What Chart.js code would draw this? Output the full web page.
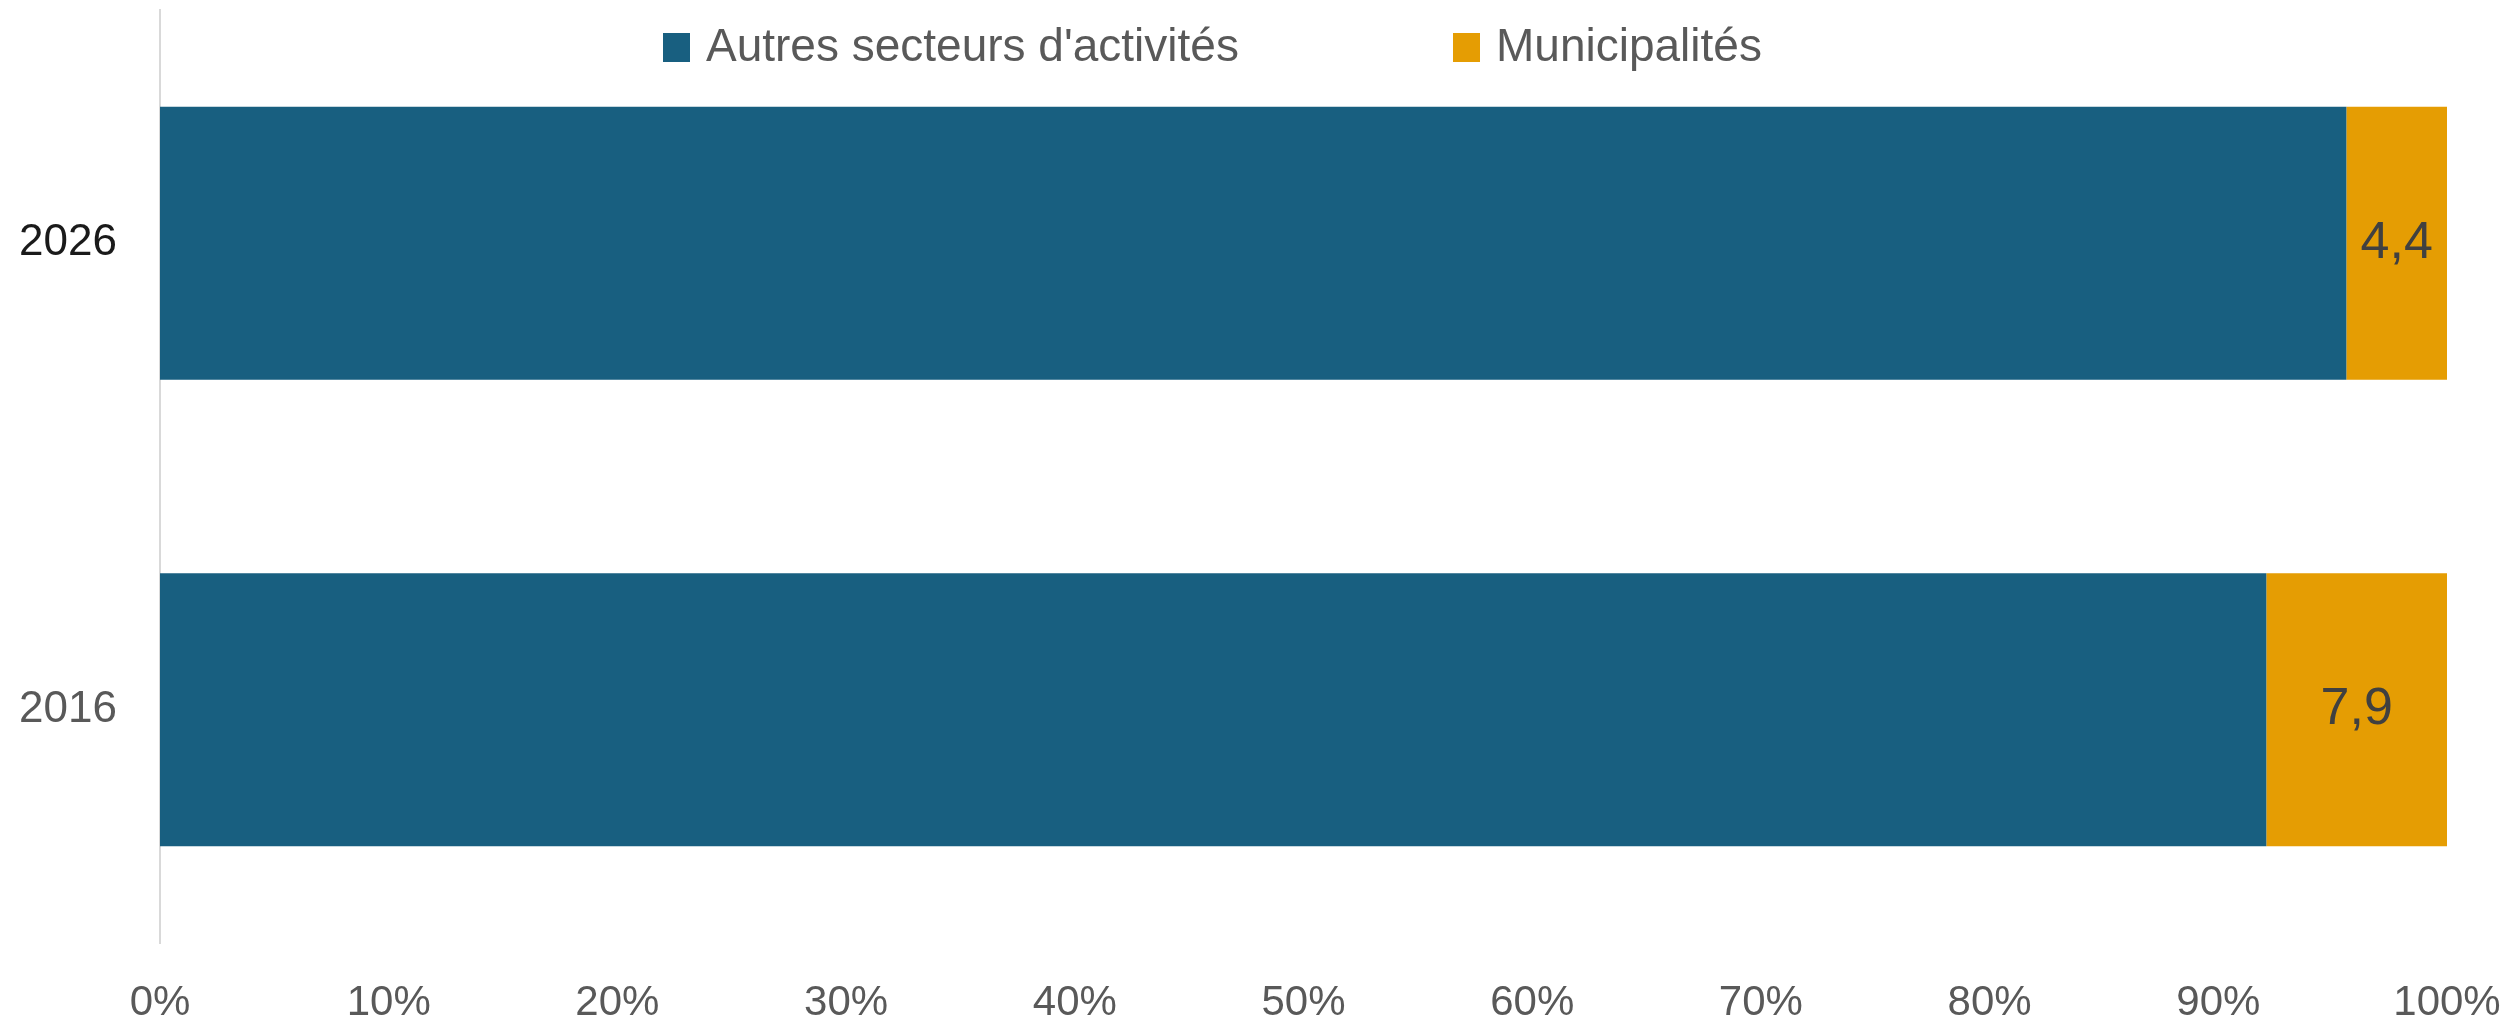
<!DOCTYPE html>
<html>
<head>
<meta charset="utf-8">
<script src="https://cdn.jsdelivr.net/npm/chart.js@4.4.0/dist/chart.umd.min.js"></script>
<style>
  html, body { margin: 0; padding: 0; background: #fff; }
  #wrap { position: relative; width: 2512px; height: 1024px; }
  #share-chart { display: block; }
  .legend-item {
    position: absolute; top: 22px; display: flex; align-items: center;
    font-family: "Liberation Sans", Arial, sans-serif; font-size: 46px;
    line-height: 1; color: #595959; white-space: nowrap;
  }
  .legend-item .box { width: 27px; height: 29px; margin: 4px 16px 0 0; display: inline-block; }
</style>
</head>
<body>
<div id="wrap">
  <canvas id="share-chart" width="2512" height="1024"></canvas>
  <div id="legend"></div>
</div>
<script>
// Parts of the total (%) per year
const years = ['2026', '2016'];
const autresSecteurs = [95.6, 92.1];
const municipalites = [4.4, 7.9];
const seriesNames = ["Autres secteurs d'activités", 'Municipalités'];
const seriesColors = ['#185F80', '#E59D03'];

const font = '"Liberation Sans", Arial, sans-serif';

// Simple HTML legend laid over the top of the chart
const legendPos = [663, 1453];
const legend = document.getElementById('legend');
seriesNames.forEach(function (name, i) {
    const item = document.createElement('div');
    item.className = 'legend-item';
    item.style.left = legendPos[i] + 'px';
    item.innerHTML = '<span class="box" style="background:' + seriesColors[i] + '"></span><span></span>';
    item.lastChild.textContent = name;
    legend.appendChild(item);
});

// Value labels inside the "Municipalités" segments
const valueLabels = {
    id: 'valueLabels',
    afterDatasetsDraw(chart) {
        const ctx = chart.ctx;
        const meta = chart.getDatasetMeta(1);
        ctx.save();
        ctx.font = '52px ' + font;
        ctx.fillStyle = '#404040';
        ctx.textAlign = 'center';
        ctx.textBaseline = 'middle';
        meta.data.forEach(function (bar, i) {
            const p = bar.getCenterPoint();
            const txt = municipalites[i].toFixed(1).replace('.', ',');
            ctx.fillText(txt, p.x, p.y);
        });
        ctx.restore();
    }
};

const ctx = document.getElementById('share-chart').getContext('2d');
const shareChart = new Chart(ctx, {
    type: 'bar',
    data: {
        labels: years,
        datasets: [{
            label: seriesNames[0],
            data: autresSecteurs,
            backgroundColor: seriesColors[0],
            borderWidth: 0,
            categoryPercentage: 1,
            barPercentage: 0.585
        }, {
            label: seriesNames[1],
            data: municipalites,
            backgroundColor: seriesColors[1],
            borderWidth: 0,
            categoryPercentage: 1,
            barPercentage: 0.585
        }]
    },
    options: {
        indexAxis: 'y',
        responsive: false,
        animation: false,
        layout: { padding: { top: 10, right: 65, bottom: 0, left: 0 } },
        plugins: {
            legend: { display: false },
            tooltip: { enabled: false }
        },
        scales: {
            x: {
                stacked: true,
                min: 0,
                max: 100,
                afterFit: function (scale) {
                    scale.height = 81;
                    scale.paddingLeft = 0;
                    scale.paddingRight = 0;
                },
                ticks: {
                    stepSize: 10,
                    padding: 39,
                    color: '#595959',
                    font: { family: font, size: 42, lineHeight: 1 },
                    callback: function (v) { return v + '%'; }
                },
                grid: { display: false, drawTicks: false },
                border: { display: false }
            },
            y: {
                stacked: true,
                afterFit: function (scale) {
                    scale.width = 160;
                    scale.paddingTop = 0;
                    scale.paddingBottom = 0;
                },
                ticks: {
                    padding: 43,
                    color: function (c) { return c.index === 0 ? '#1a1a1a' : '#595959'; },
                    font: { family: font, size: 44 }
                },
                grid: { display: false, drawTicks: false },
                border: { display: true, color: '#d9d9d9', width: 2 }
            }
        }
    },
    plugins: [valueLabels]
});
</script>
</body>
</html>
